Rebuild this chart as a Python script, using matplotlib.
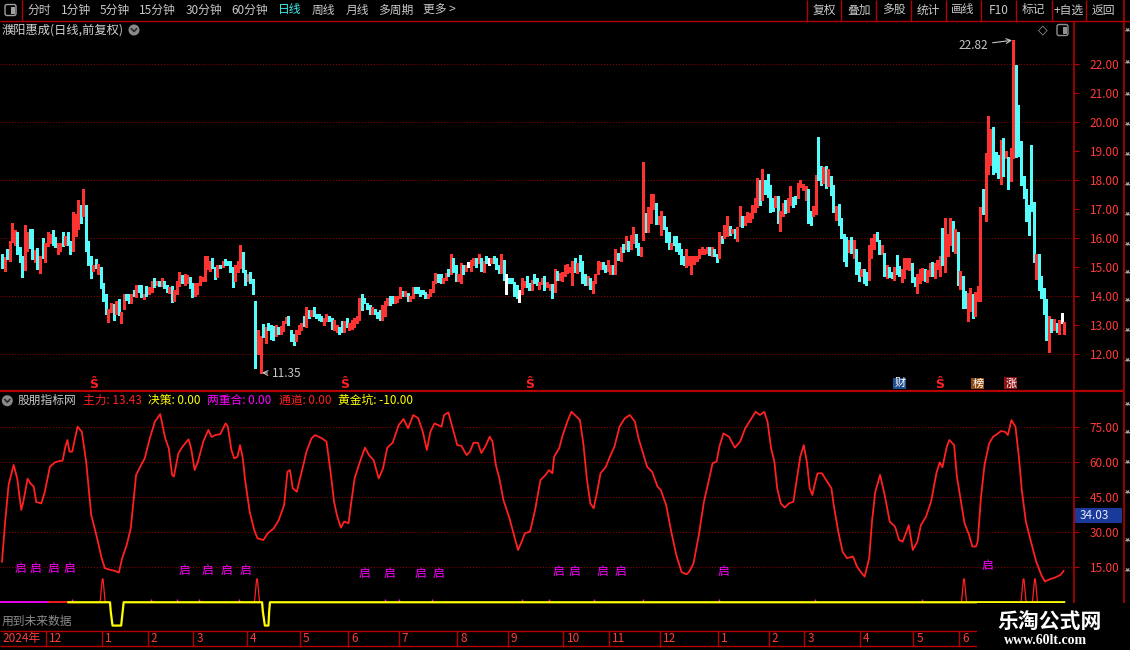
import matplotlib
matplotlib.use("Agg")
import matplotlib.pyplot as plt
import matplotlib.transforms as mtransforms
from matplotlib.patches import Rectangle, Circle, FancyBboxPatch

plt.rcParams['font.family'] = ['Noto Sans CJK SC', 'DejaVu Sans']

W, H = 1130, 650
UP, DOWN, FLAT = '#ff3232', '#54fcfc', '#ffffff'
GRID = '#a00000'
AXRED = '#ff3c3c'
FRAME = '#b40000'

# daily bars (low / high), one per trading day
lows = [
    14.95, 14.85, 15.26, 15.20, 15.85, 15.75, 15.43, 15.16, 14.65, 14.89,
    15.54, 15.64, 15.26, 15.16, 14.92, 14.79, 15.29, 15.16, 15.72, 15.83,
    15.75, 15.67, 15.44, 15.54, 15.72, 15.77, 15.77, 15.44, 15.54, 16.05,
    16.29, 16.50, 16.77, 15.54, 15.06, 14.61, 14.85, 14.96, 14.75, 14.27,
    13.82, 13.37, 13.09, 13.46, 13.16, 13.39, 13.34, 13.06, 13.54, 13.85,
    13.74, 13.75, 14.00, 13.95, 14.12, 13.95, 13.88, 14.01, 14.05, 14.15,
    14.29, 14.39, 14.33, 14.33, 14.26, 14.15, 14.11, 13.79, 13.81, 14.08,
    14.33, 14.43, 14.36, 14.45, 14.26, 13.95, 13.98, 14.05, 14.36, 14.50,
    14.50, 14.91, 14.85, 14.95, 14.57, 14.64, 14.95, 14.98, 15.05, 15.05,
    14.81, 14.29, 14.50, 14.84, 14.95, 14.84, 14.39, 14.53, 14.43, 14.08,
    11.53, 11.98, 11.35, 12.57, 12.39, 12.84,
    12.52, 12.49, 12.61, 12.70, 12.70, 12.78, 13.07, 12.98, 12.44, 12.32,
    12.43, 12.70, 12.83, 12.95, 12.94, 13.25, 13.29, 13.32, 13.22, 13.18,
    13.15, 13.01, 13.12, 13.15, 12.87, 12.81, 12.77, 12.67, 12.77, 12.77,
    12.94, 12.81, 12.87, 12.94, 13.08, 13.18, 13.53, 13.74, 13.56, 13.39,
    13.39, 13.39, 13.22, 13.18, 13.18, 13.32, 13.70, 13.70, 13.74, 13.74,
    13.80, 13.91, 13.98, 13.98, 13.84, 13.84, 13.94, 14.11, 14.11, 14.01,
    14.08, 13.91, 13.91, 13.98, 14.15, 14.43, 14.49, 14.46, 14.46, 14.56,
    14.67, 14.74, 14.84, 14.53, 14.53, 14.46, 14.77, 14.87, 14.98, 14.87,
    15.08, 14.98, 15.12, 14.87, 14.84, 15.12, 15.08, 15.12, 15.12, 14.94,
    14.80, 14.80, 14.56, 14.08, 14.43, 14.43, 14.01, 13.94, 13.80, 14.08,
    14.29, 14.32, 14.22, 14.22, 14.46, 14.39, 14.25,
    14.42, 14.22, 14.32, 14.22, 13.94, 14.15, 14.56, 14.56, 14.53, 14.70,
    14.80, 14.84, 14.36, 14.84, 14.80, 14.87, 14.46, 14.39, 14.39, 14.25,
    14.11, 14.46, 14.77, 14.94, 14.91, 14.84, 14.87, 14.74, 14.77, 14.74,
    15.25, 15.22, 15.53, 15.60, 15.56, 15.63, 15.84, 15.70, 15.42, 15.36,
    15.94, 16.22, 16.22, 16.53, 16.98, 16.49, 16.49, 16.11, 16.29, 15.87,
    15.63, 15.60, 15.77, 15.56, 15.46, 15.11, 15.08, 15.01, 15.08, 14.77,
    15.11, 15.22, 15.29, 15.46, 15.46, 15.49, 15.42, 15.39, 15.36, 15.18,
    15.29, 15.84, 16.01, 16.08, 16.11, 16.18, 16.01, 15.91, 16.42, 16.39,
    16.46, 16.56, 16.56, 16.70, 16.91, 17.05, 17.15, 17.29, 17.53, 17.42,
    16.91, 16.94, 17.08, 16.53, 16.25, 16.77, 16.87, 16.91, 17.15, 17.08,
    17.18, 17.36, 17.74,
    17.64, 17.32, 16.52, 16.43, 16.75, 16.84, 17.98, 17.82, 17.90, 17.72,
    17.78, 17.47, 16.89, 16.60, 16.46, 15.98, 15.20, 15.02, 15.52, 15.48,
    15.31, 14.74, 14.51, 14.70, 14.45, 14.39, 14.56, 15.31, 15.60, 15.89,
    15.46, 15.46, 14.70, 14.62, 14.66, 14.60, 14.54, 14.76, 14.68, 14.48,
    14.62, 14.91, 14.89, 14.48, 14.33, 14.10, 14.45, 14.56, 14.51, 14.48,
    14.68, 14.70, 14.62, 14.91, 14.68, 15.08, 14.83, 15.37, 15.77, 15.54,
    15.48, 14.39, 14.25, 13.59, 13.59, 13.13, 13.47, 13.24, 13.32, 13.82,
    13.82, 16.81, 16.58, 18.21, 18.53, 18.21, 18.28, 18.07, 17.87, 18.13,
    18.74, 17.70, 17.95, 18.76, 18.79, 18.84, 17.84, 17.38, 16.58, 16.09,
    16.92, 15.16, 14.59, 14.22, 13.93, 13.36, 12.49, 12.06, 12.75, 12.82,
    12.75, 12.67, 13.07, 12.67,
]
highs = [
    15.43, 15.34, 15.60, 15.89, 16.50, 16.26, 16.22, 15.70, 15.39, 16.43,
    16.19, 16.29, 16.29, 15.58, 15.64, 15.39, 15.98, 15.81, 16.22, 16.15,
    16.26, 16.02, 15.84, 15.84, 16.22, 16.08, 16.19, 15.91, 16.91, 16.84,
    17.32, 17.15, 17.70, 17.12, 15.88, 15.39, 15.08, 15.26, 15.10, 15.01,
    14.43, 14.08, 13.54, 13.74, 13.71, 13.81, 13.88, 13.46, 14.08, 14.08,
    14.08, 14.05, 14.19, 14.36, 14.36, 14.39, 14.08, 14.33, 14.29, 14.53,
    14.60, 14.53, 14.53, 14.60, 14.50, 14.36, 14.29, 14.33, 14.22, 14.50,
    14.81, 14.71, 14.74, 14.71, 14.64, 14.46, 14.46, 14.43, 14.67, 14.64,
    15.36, 15.36, 15.22, 15.29, 15.01, 15.05, 15.08, 15.19, 15.26, 15.22,
    15.19, 14.98, 15.05, 15.19, 15.77, 15.50, 14.88, 14.77, 14.81, 14.57,
    13.82, 12.81, 12.60, 13.02, 12.91, 13.08,
    13.01, 12.95, 13.01, 12.92, 12.95, 13.15, 13.28, 13.32, 12.84, 12.67,
    12.84, 12.98, 13.08, 13.32, 13.63, 13.53, 13.53, 13.60, 13.39, 13.39,
    13.32, 13.25, 13.39, 13.29, 13.25, 13.18, 13.01, 12.94, 13.15, 13.12,
    13.22, 13.08, 13.18, 13.25, 13.32, 13.91, 14.08, 13.94, 13.77, 13.70,
    13.60, 13.56, 13.46, 13.53, 13.70, 13.84, 13.94, 13.98, 14.01, 13.98,
    14.01, 14.29, 14.18, 14.18, 14.11, 13.98, 14.29, 14.32, 14.29, 14.22,
    14.22, 14.15, 14.08, 14.25, 14.53, 14.80, 14.77, 14.74, 14.60, 14.80,
    14.94, 15.46, 15.32, 15.08, 14.74, 15.12, 15.08, 15.05, 15.18, 15.25,
    15.29, 15.29, 15.46, 15.32, 15.22, 15.36, 15.32, 15.32, 15.39, 15.29,
    15.08, 15.46, 15.25, 14.77, 14.63, 14.63, 14.49, 14.36, 14.22, 14.63,
    14.53, 14.67, 14.46, 14.56, 14.74, 14.63, 14.49,
    14.63, 14.67, 14.49, 14.42, 14.42, 14.91, 14.87, 14.80, 14.84, 15.05,
    15.11, 15.01, 15.22, 15.32, 15.15, 15.42, 15.22, 14.74, 14.67, 14.60,
    14.53, 14.74, 15.22, 15.18, 15.18, 15.08, 15.25, 15.08, 15.08, 15.60,
    15.49, 15.70, 15.80, 16.05, 15.91, 16.11, 16.36, 16.15, 15.84, 15.70,
    18.63, 16.87, 17.08, 17.53, 17.53, 17.22, 16.77, 16.94, 16.77, 16.39,
    16.22, 15.84, 16.08, 16.08, 15.84, 15.63, 15.39, 15.60, 15.36, 15.39,
    15.39, 15.39, 15.60, 15.67, 15.63, 15.70, 15.70, 15.70, 15.63, 15.46,
    16.22, 16.08, 16.46, 16.77, 16.42, 16.32, 16.29, 16.39, 17.11, 16.74,
    16.77, 16.91, 16.87, 17.15, 17.39, 18.05, 17.98, 18.39, 18.01, 18.22,
    17.84, 17.36, 17.46, 17.46, 16.94, 17.22, 17.32, 17.39, 17.80, 17.42,
    17.46, 17.91, 17.98,
    17.87, 17.78, 17.67, 16.94, 17.09, 18.18, 19.47, 18.49, 18.44, 18.47,
    18.36, 18.15, 17.82, 17.09, 17.17, 16.69, 16.12, 16.03, 15.92, 16.02,
    15.94, 15.63, 15.16, 14.94, 14.94, 14.83, 15.77, 15.98, 16.15, 16.21,
    15.92, 15.77, 15.48, 15.05, 15.00, 14.83, 15.00, 15.41, 15.02, 14.93,
    15.29, 15.32, 15.30, 15.12, 14.66, 14.74, 14.94, 14.97, 14.93, 14.89,
    15.12, 15.16, 15.14, 15.23, 15.39, 16.35, 16.67, 16.12, 16.69, 16.58,
    16.29, 16.21, 14.85, 14.68, 14.16, 14.10, 14.26, 14.05, 14.13, 14.33,
    17.06, 17.70, 18.93, 20.22, 19.77, 19.82, 18.97, 18.87, 19.39, 19.45,
    18.99, 18.78, 19.10, 22.82, 21.95, 20.60, 19.33, 18.15, 17.67, 17.15,
    19.22, 17.23, 15.43, 15.43, 14.68, 14.26, 13.90, 13.32, 13.21, 13.21,
    13.07, 13.18, 13.41, 13.10,
]
# r = up day, c = down day, w = unchanged
bar_dir = (
    "crcrrrcccr" "rccrcrcrrr" "ccrrcrccrr" "rcrcccrcrc" "ccrrcrcrrc"
    "crcrccrcrr" "crcrccrcrr" "rcrrccrrrr" "rrrccrcrcc" "ccrrrccrcc" "crrcrc"
    "ccrcrrrccc" "rrrcrcrccc" "crrccrrccr" "crrrrrcccc" "rcccrrrccr"
    "rrcrcrrccc" "ccrrrrccrr" "crccrrcrwr" "rcrcrcwrcc" "crcwccccwr" "rccrccr"
    "rcrrcrcrrr" "rrrcrcccrc" "rrrrccrrcr" "crcrcrrccr" "rcrrrcrrcc"
    "crcccccrrr" "rrrrrrcrcc" "rcrrcrcrrc" "rrrrrrcrcc" "ccrcrrcrrc" "crr"
    "rrccrrccrc" "rccrccccrc" "rccrccrrrc" "crcrccrccr" "rrrccrrrcr"
    "rcrrrcrrrc" "rcrccrrcrr" "rcrrrcccrc" "rcrrcccccc" "ccrccccrcr" "crwr"
)

# main-force line of the indicator panel (bar position, value)
zl_x = [
    0, 1.25, 2.6, 4.6, 6.0, 7.6, 8.4, 10.1, 11.2, 12.5,
    13.5, 15.5, 16.9, 18.9, 20.9, 23.0, 23.9, 25.0, 25.8, 26.6,
    27.7, 28.8, 29.8, 31.5, 33.2, 35.2, 37.2, 39.3, 40.6, 42.7,
    44.7, 46.1, 47.4, 49.2, 50.8, 52.9, 54.9, 56.3, 58.3, 60.3,
    62.4, 64.4, 65.8, 67.1, 67.8, 69.6, 71.2, 73.6, 74.6, 76.0,
    77.3, 79.4, 81.4, 82.7, 84.1, 86.1, 88.2, 89.1, 90.5, 91.6,
    92.9, 93.9, 95.0, 95.9, 97.7, 99.5, 100.8, 103.1, 104.9, 107.2,
    109.2, 111.3, 112.6, 113.6, 114.7, 116.3, 117.4, 118.7, 120.1, 122.1,
    123.5, 126.2, 128.0, 129.6, 131.0, 132.1, 133.7, 135.0, 136.7, 137.8,
    139.1, 141.2, 143.2, 144.8, 146.6, 148.6, 150.3, 152.0, 154.1, 156.5,
    158.4, 160.2, 162.2, 164.2, 166.0, 167.6, 169.0, 170.6, 172.0, 173.4,
    174.4, 176.1, 177.8, 179.6, 181.2, 183.3, 184.6, 186.0, 187.7, 189.1,
    190.7, 192.4, 193.5, 194.8, 196.2, 197.8, 200.2, 202.3, 203.6, 205.0,
    206.3,
    208.3, 210.3, 212.4, 214.4, 215.8, 217.1, 217.8, 219.8, 221.2, 223.0,
    224.6, 226.0, 228.0, 229.4, 230.7, 232.1, 233.4, 234.8, 236.1, 238.2,
    239.8, 241.6, 243.6, 245.7, 247.7, 249.7, 251.1, 253.1, 254.5, 256.5,
    258.6, 259.9, 262.0, 264.0, 266.0, 268.1, 270.1, 271.1, 272.8, 274.9,
    276.9, 279.0, 280.3, 281.9, 283.0, 284.6, 286.8, 289.1, 291.2, 293.2,
    295.2, 297.3, 299.0, 300.7, 302.0, 303.4, 304.7, 305.8, 307.2, 308.8,
    310.4, 312.2, 313.6, 314.9, 316.3, 317.6, 318.6, 319.7, 320.4, 321.7,
    323.5, 325.1, 327.2, 328.1, 329.9, 331.6, 333.3, 335.7, 337.3, 338.7,
    340.3, 342.1, 343.2, 344.5, 346.4, 348.2, 350.2, 352.3, 353.9, 355.3,
    356.6, 357.7, 359.3, 361.1, 362.5, 364.5, 366.5, 368.6, 369.9, 371.0,
    372.7, 373.7, 375.6, 376.7, 378.1, 379.7, 381.5, 382.8, 384.2, 384.9,
    386.2, 387.6, 389.4, 391.0, 392.4, 394.1, 395.7, 396.8, 398.2, 399.8,
    401.2, 402.3, 403.9, 405.9, 408.0, 410.0, 411.4, 413.4, 415.4, 417.5,
    418.8,
]
zl_y = [
    17.4, 34.6, 50.3, 58.9, 53.1, 39.6, 43.0, 53.0, 51.0, 49.6,
    43.0, 42.4, 47.4, 58.1, 60.0, 60.7, 60.7, 66.7, 69.6, 64.6,
    64.6, 70.3, 75.3, 73.1, 60.3, 37.4, 28.9, 18.9, 14.6, 13.9,
    13.4, 12.7, 18.9, 24.6, 31.7, 54.6, 58.9, 61.7, 70.3, 77.4,
    80.7, 70.3, 66.0, 54.6, 53.9, 63.9, 66.7, 69.9, 66.0, 56.7,
    60.3, 68.9, 73.9, 70.9, 71.7, 72.1, 76.7, 75.3, 65.3, 61.7,
    62.4, 67.4, 61.7, 52.4, 38.9, 31.0, 27.4, 26.7, 29.6, 31.7,
    35.3, 41.7, 56.0, 56.7, 48.9, 47.4, 52.4, 58.1, 64.6, 70.3,
    71.7, 70.3, 68.9, 56.0, 43.1, 37.4, 32.0, 34.6, 33.9, 43.0,
    53.1, 60.3, 66.3, 63.1, 61.0, 53.1, 57.4, 66.3, 68.4, 76.0,
    78.6, 74.6, 80.3, 78.9, 73.1, 65.3, 73.1, 76.7, 76.0, 75.3,
    80.3, 81.4, 74.6, 67.4, 67.1, 63.1, 64.6, 68.4, 68.4, 64.0,
    66.9, 71.0, 68.9, 58.9, 53.1, 43.9, 36.0, 27.4, 22.4, 26.0,
    29.6,
    30.3, 39.6, 52.4, 54.6, 56.7, 55.3, 62.4, 66.0, 71.7, 77.4,
    81.7, 80.3, 78.1, 67.4, 53.1, 42.4, 40.3, 47.4, 55.3, 58.1,
    62.4, 66.7, 75.3, 78.9, 80.3, 77.4, 70.3, 63.1, 58.1, 55.9,
    49.6, 48.1, 41.7, 30.3, 20.3, 12.9, 12.0, 13.1, 16.7, 28.9,
    43.1, 53.1, 59.6, 60.3, 66.7, 72.4, 71.0, 66.3, 68.9, 74.6,
    78.1, 81.7, 80.3, 81.7, 77.4, 66.0, 60.3, 48.9, 42.4, 40.6,
    42.4, 43.1, 53.1, 62.4, 67.4, 59.6, 48.9, 46.0, 49.6, 55.3,
    55.3, 52.4, 48.9, 41.7, 30.3, 21.7, 18.9, 19.6, 15.3, 13.1,
    11.0, 18.9, 34.6, 47.4, 54.6, 46.0, 34.6, 32.4, 26.7, 26.0,
    29.6, 33.1, 22.4, 26.0, 33.1, 36.7, 43.1, 55.3, 60.0, 57.9,
    66.7, 69.6, 67.4, 53.9, 44.6, 33.9, 28.9, 23.9, 23.9, 26.0,
    45.1, 58.9, 68.1, 71.0, 72.0, 73.4, 73.1, 71.7, 78.1, 75.3,
    61.7, 48.1, 34.6, 26.0, 17.4, 11.7, 8.9, 9.9, 10.6, 11.7,
    13.43,
]

# golden-pit line (yellow), two dips to -10
gold_x = [26.2, 42.6, 42.9, 43.6, 47.0, 47.6, 48.0,
          102.6, 102.9, 103.7, 105.1, 105.4, 105.7, 419]
gold_y = [0, 0, -4, -10, -10, -4, 0, 0, -4, -10, -10, -4, 0, 0]
pre_magenta = [-0.8, 18.4]
pre_red = [18.4, 26.2]
chan_peaks = [39.7, 100.6, 379.5, 403.0, 407.5]
chan_height = 10
pair_marks = [27.6, 58.8, 68.9, 77.7, 93.5, 151.1, 156.6, 169.6, 205.1,
              215.6, 233.5, 252.7, 282.8, 320.9, 362.8]

# "启" signals
qi_x = [7.1, 13.0, 20.1, 26.8, 72.0, 80.9, 88.4, 95.9, 142.8, 152.7,
        164.9, 172.0, 219.5, 226.0, 236.7, 243.8, 284.7, 388.6]
qi_y = [14.6, 14.6, 14.6, 14.6, 13.5, 13.5, 13.5, 13.5, 12.4, 12.4,
        12.4, 12.4, 13.4, 13.4, 13.4, 13.4, 13.4, 15.7]

month_start = [18, 40, 58, 76, 97, 118, 137, 157, 180, 200,
               222, 240, 260, 283, 303, 317, 339, 360, 378]
month_label = ['12', '1', '2', '3', '4', '5', '6', '7', '8', '9',
               '10', '11', '12', '1', '2', '3', '4', '5', '6']

s_marks = [36.3, 135.3, 208.3, 370.0]
tag_text = ['财', '榜', '涨']
tag_pos = [354.2, 385.0, 398.0]
tag_bg = ['#1f4e8c', '#8c4a10', '#8c1010']

price_ticks = list(range(12, 23))
ind_ticks = [15, 30, 45, 60, 75]

# ---------------------------------------------------------------
fig = plt.figure(figsize=(W / 100, H / 100), dpi=100, facecolor='black')


def px_axes(x0, y0, x1, y1):
    return fig.add_axes([x0 / W, 1 - y1 / H, (x1 - x0) / W, (y1 - y0) / H])


XLIM = (-0.79, 422.5)

# price panel
ax = px_axes(0, 21, 1073, 390.7)
ax.set_facecolor('black')
ax.set_xlim(*XLIM)
ax.set_ylim(10.73, 23.48)
for s in ax.spines.values():
    s.set_visible(False)
ax.set_xticks([])
ax.yaxis.tick_right()
ax.set_yticks(price_ticks)
ax.set_yticklabels(['%.2f' % v for v in price_ticks])
ax.tick_params(axis='y', colors=FRAME, labelcolor=AXRED, length=4,
               width=0.8, pad=8, labelsize=8.5)
for v in price_ticks[::2]:
    ax.axhline(v, color=GRID, lw=0.7, dashes=(1, 2))

n = min(len(lows), len(highs), len(bar_dir))
cmap = {'r': UP, 'c': DOWN, 'w': FLAT}
ax.vlines(range(n), lows[:n], highs[:n], colors=[cmap[c] for c in bar_dir[:n]],
          lw=0.8, antialiased=False)

for i in s_marks:
    ax.text(i, 10.95, 'Ŝ', color='#ff2020', fontsize=9, fontweight='bold',
            ha='center', va='center')
for t, i, bg in zip(tag_text, tag_pos, tag_bg):
    ax.text(i, 10.98, t, color='white', fontsize=8, ha='center', va='center',
            bbox=dict(boxstyle='square,pad=0.08', fc=bg, ec='none'))

ax.annotate('22.82', xy=(399, 22.82), xytext=(-25, -5), textcoords='offset pixels',
            ha='right', va='center', color='#c8c8c8', fontsize=8.5,
            arrowprops=dict(arrowstyle='->', color='#c8c8c8', lw=0.8,
                            shrinkA=1, shrinkB=1))
ax.annotate('11.35', xy=(102, 11.35), xytext=(11, -1), textcoords='offset pixels',
            ha='left', va='center', color='#c8c8c8', fontsize=8.5,
            arrowprops=dict(arrowstyle='->', color='#c8c8c8', lw=0.8,
                            shrinkA=1, shrinkB=1))

# indicator panel
ai = px_axes(0, 391, 1073, 630.7)
ai.set_facecolor('black')
ai.set_xlim(*XLIM)
ai.set_ylim(-12.2, 90.6)
for s in ai.spines.values():
    s.set_visible(False)
ai.set_xticks([])
ai.yaxis.tick_right()
ai.set_yticks(ind_ticks)
ai.set_yticklabels(['%.2f' % v for v in ind_ticks])
ai.tick_params(axis='y', colors=FRAME, labelcolor=AXRED, length=4,
               width=0.8, pad=8, labelsize=8.5)
for v in ind_ticks:
    ai.axhline(v, color=GRID, lw=0.7, dashes=(1, 2))

ai.plot(pre_magenta, [0, 0], color='#ff00ff', lw=1.3)
ai.plot(pre_red, [0, 0], color='#ff2020', lw=1.3)
for p in chan_peaks:
    ai.plot([p - 1.0, p - 0.15, p + 0.15, p + 1.0], [0, chan_height, chan_height, 0],
            color='#ff2020', lw=0.9)
ai.vlines(pair_marks, 0, 1.6, color='#ff00ff', lw=1.0)
ai.plot(gold_x, gold_y, color='#ffff00', lw=1.6)
ai.plot(zl_x, zl_y, color='#ff2020', lw=1.3)
for x, y in zip(qi_x, qi_y):
    ai.text(x, y, '启', color='#ff00ff', fontsize=8.5, ha='center', va='center')

# overlay in pixel coordinates
ov = fig.add_axes([0, 0, 1, 1])
ov.set_xlim(0, W)
ov.set_ylim(H, 0)
ov.axis('off')
ov.set_zorder(5)


def hline(y, x0, x1, lw=1.0):
    ov.plot([x0, x1], [y, y], color=FRAME, lw=lw, solid_capstyle='butt')


def vline(x, y0, y1, lw=1.0):
    ov.plot([x, x], [y0, y1], color=FRAME, lw=lw, solid_capstyle='butt')


hline(20.5, 0, W)
vline(22, 0, 20.5)
for sx in [807, 841.4, 876.4, 911, 946, 981, 1016, 1051.5, 1086.4]:
    vline(sx, 0, 20.5)
vline(1073.5, 21, 631, lw=1.2)
vline(1123.5, 0, H, lw=1.2)
hline(390.7, 0, 1123, lw=1.6)
hline(630.7, 0, 1123)
hline(646, 0, 1123)

# toolbar
tool_left = ['分时', '1分钟', '5分钟', '15分钟', '30分钟', '60分钟', '日线', '周线', '月线', '多周期', '更多 >']
tool_left_x = [39.6, 75.7, 114.6, 157.8, 203.6, 250, 290, 323.6, 357.6, 396, 439]
for t, x in zip(tool_left, tool_left_x):
    ov.text(x, 10, t, ha='center', va='center', fontsize=8.5,
            color='#40f0f0' if t == '日线' else '#c8c8c8')
tool_right = ['复权', '叠加', '多股', '统计', '画线', 'F10', '标记', '+自选', '返回']
tool_right_x = [824.5, 858.7, 893.6, 928, 963, 999, 1033.5, 1068.8, 1103.7]
for t, x in zip(tool_right, tool_right_x):
    ov.text(x, 10, t, ha='center', va='center', fontsize=8.5, color='#c8c8c8')

ov.add_patch(FancyBboxPatch((5, 4.5), 11, 11, boxstyle='round,pad=0,rounding_size=2',
                            fc='none', ec='#a0a0a0', lw=1))
ov.add_patch(Rectangle((11, 6.5), 3.5, 7, fc='#a0a0a0', ec='none'))

# title row
ov.text(2, 30, '濮阳惠成(日线,前复权)', ha='left', va='center', fontsize=8.8, color='#d0d0d0')


def chevron(cx, cy):
    ov.add_patch(Circle((cx, cy), 5.5, fc='#8a8a8a', ec='none'))
    ov.plot([cx - 2.5, cx, cx + 2.5], [cy - 1.2, cy + 1.5, cy - 1.2], color='#2a2a2a', lw=1.2)


chevron(134, 30)
ov.text(1043, 30, '◇', ha='center', va='center', fontsize=9, color='#a0a0a0',
        family='DejaVu Sans')
ov.add_patch(FancyBboxPatch((1057, 24.5), 11, 11, boxstyle='round,pad=0,rounding_size=2',
                            fc='none', ec='#909090', lw=1))
ov.add_patch(Rectangle((1063, 26.5), 3.5, 7, fc='#909090', ec='none'))

# indicator header
chevron(7.3, 400.7)
ov.text(18, 400.7, '股朋指标网', ha='left', va='center', fontsize=8.5, color='#c8c8c8')
head = ['主力: 13.43', '决策: 0.00', '两重合: 0.00', '通道: 0.00', '黄金坑: -10.00']
head_x = [83, 148, 207, 279, 338]
head_c = ['#ff2020', '#ffff00', '#ff00ff', '#ff2020', '#ffff00']
for t, x, c in zip(head, head_x, head_c):
    ov.text(x, 400.7, t, ha='left', va='center', fontsize=8.5, color=c)

# current value box on indicator axis
ov.add_patch(Rectangle((1074, 508), 48, 15, fc='#1a3a9a', ec='none'))
ov.text(1080, 515.5, '34.03', ha='left', va='center', fontsize=8.5, color='#e8e8ff')

ov.text(2, 621.7, '用到未来数据', ha='left', va='center', fontsize=8.5, color='#8c8c8c')

# date axis
trans = mtransforms.blended_transform_factory(ax.transData, ov.transData)
ov.text(2, 638.5, '2024年', ha='left', va='center', fontsize=8.5, color=AXRED)
for m, lbl in zip(month_start, month_label):
    ov.plot([m - 0.5, m - 0.5], [630.7, 646], color=FRAME, lw=1, transform=trans)
    ov.text(m + 0.7, 638.5, lbl, ha='left', va='center', fontsize=8.5,
            color=AXRED, transform=trans)

# narrow right-hand strip: tiny glyphs that fit in the 6 px column
strip_y = [30, 62, 95, 124, 154, 184, 214, 244, 272, 300, 330, 360, 405, 432, 462, 492, 540, 570]
for y in strip_y:
    ov.text(1124.6, y, '某', ha='left', va='center', fontsize=3.8, color='#c0c0c0')

# watermark
ov.add_patch(Rectangle((977, 603), 153, 47, fc='black', ec='none', zorder=20))
ov.text(1050, 621, '乐淘公式网', ha='center', va='center', fontsize=15,
        fontweight='bold', color='white', zorder=21)
ov.text(1046, 641, 'www.60lt.com', ha='center', va='center', fontsize=10,
        fontweight='bold', color='white', family='Liberation Serif', zorder=21)

fig.savefig('out.png', dpi=100, facecolor='black')
